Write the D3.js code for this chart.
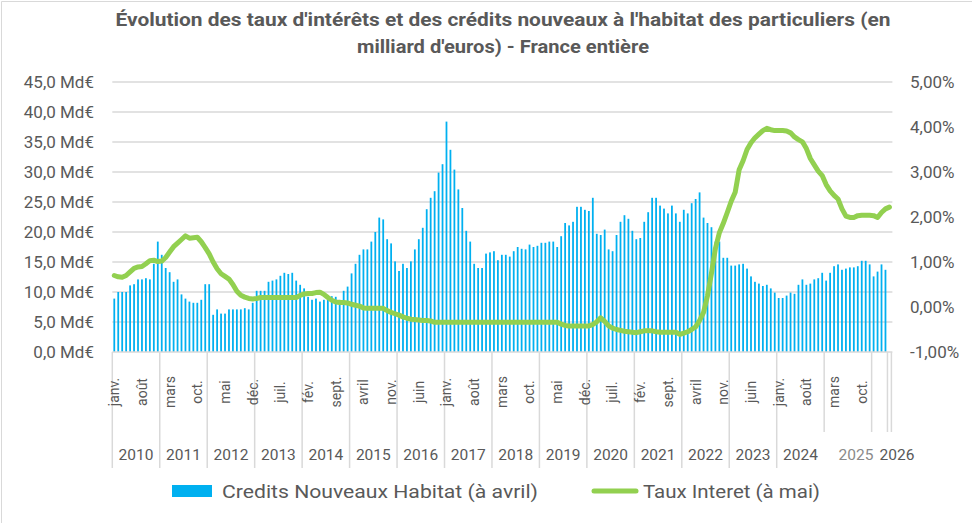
<!DOCTYPE html>
<html>
<head>
<meta charset="utf-8">
<script src="https://cdn.jsdelivr.net/npm/d3@7"></script>
<style>
	body { margin: 0; background: #fff; }
	svg { display: block; font-family: Roboto, 'Noto Sans', sans-serif; }
</style>
</head>
<body>
<svg id="canvas"></svg>
<script>
// month labels shown every 7 months (janv. 2010, août 2010, mars 2011 ...)
const moisLabels = ['janv.', 'août', 'mars', 'oct.', 'mai', 'déc.', 'juil.', 'fév.', 'sept.', 'avril', 'nov.', 'juin'];
const annees = [2010, 2011, 2012, 2013, 2014, 2015, 2016, 2017, 2018, 2019, 2020, 2021, 2022, 2023, 2024, 2025, 2026];
const leftTicks = [0, 5, 10, 15, 20, 25, 30, 35, 40, 45];
const rightTicks = [-1, 0, 1, 2, 3, 4, 5];

// credits nouveaux habitat, Md€ per month, janv. 2010 -> avril 2026
const credits = [
	8.9, 10.0, 10.0, 10.0, 11.1, 11.3, 12.1, 12.1, 12.3, 12.1, 14.7, 18.4,
	16.2, 14.0, 13.3, 11.7, 12.1, 9.6, 8.9, 8.4, 8.2, 8.2, 8.7, 11.3,
	11.3, 6.2, 7.1, 6.4, 6.4, 7.1, 7.1, 7.1, 7.1, 7.3, 7.1, 8.2,
	10.2, 10.2, 10.2, 11.7, 11.9, 12.1, 12.7, 13.2, 13.0, 13.2, 11.9, 11.2,
	10.6, 9.2, 8.7, 8.9, 8.4, 8.7, 9.5, 9.3, 9.2, 8.7, 10.2, 10.9,
	13.1, 14.7, 16.2, 17.1, 17.1, 18.4, 20.0, 22.4, 22.1, 18.8, 18.1, 15.1,
	13.5, 14.7, 14.0, 15.1, 17.1, 18.8, 20.7, 23.8, 25.7, 26.8, 29.9, 31.3,
	38.4, 33.7, 30.4, 27.1, 24.0, 20.2, 18.4, 14.7, 14.0, 14.0, 16.4, 16.6,
	16.8, 15.3, 16.2, 16.2, 15.9, 16.8, 17.5, 17.2, 17.1, 17.9, 17.5, 17.7,
	18.2, 18.2, 18.4, 18.4, 17.5, 19.3, 21.5, 21.1, 21.7, 24.2, 24.2, 23.7,
	23.5, 25.7, 19.7, 19.5, 20.4, 17.1, 16.8, 19.5, 21.7, 22.8, 22.2, 20.2,
	18.8, 19.0, 21.7, 23.3, 25.7, 25.7, 24.4, 23.9, 23.1, 24.4, 23.1, 21.7,
	23.7, 23.1, 24.8, 25.5, 26.6, 22.4, 21.5, 20.8, 18.4, 18.4, 15.7, 15.7,
	14.4, 14.4, 14.6, 14.7, 13.9, 12.6, 11.7, 11.4, 11.0, 11.2, 10.6, 9.9,
	9.0, 9.0, 9.4, 9.9, 9.7, 11.2, 12.1, 11.2, 11.4, 12.1, 12.3, 13.2,
	11.9, 13.2, 14.3, 14.6, 13.7, 13.9, 14.1, 14.1, 14.3, 15.2, 15.2, 14.6,
	12.6, 13.4, 14.6, 13.7
];

// taux d'interet en %, janv. 2010 -> mai 2026
const taux = [
	0.70, 0.67, 0.66, 0.70, 0.78, 0.86, 0.89, 0.90, 0.96, 1.03, 1.04, 1.01,
	1.02, 1.10, 1.22, 1.34, 1.42, 1.50, 1.58, 1.53, 1.54, 1.55, 1.45, 1.32,
	1.18, 1.00, 0.85, 0.74, 0.68, 0.62, 0.50, 0.35, 0.26, 0.22, 0.19, 0.18,
	0.19, 0.21, 0.21, 0.21, 0.21, 0.21, 0.21, 0.21, 0.21, 0.21, 0.21, 0.26,
	0.29, 0.30, 0.30, 0.32, 0.33, 0.28, 0.21, 0.15, 0.11, 0.10, 0.10, 0.09,
	0.06, 0.04, 0.02, -0.02, -0.03, -0.03, -0.03, -0.03, -0.03, -0.08, -0.12, -0.15,
	-0.18, -0.22, -0.25, -0.27, -0.28, -0.29, -0.30, -0.30, -0.31, -0.34, -0.34, -0.34,
	-0.34, -0.34, -0.34, -0.34, -0.34, -0.34, -0.34, -0.34, -0.34, -0.34, -0.34, -0.34,
	-0.34, -0.34, -0.34, -0.34, -0.34, -0.34, -0.34, -0.34, -0.34, -0.34, -0.34, -0.34,
	-0.34, -0.34, -0.34, -0.34, -0.34, -0.38, -0.41, -0.42, -0.42, -0.42, -0.42, -0.42,
	-0.42, -0.39, -0.33, -0.24, -0.32, -0.42, -0.47, -0.50, -0.52, -0.54, -0.55, -0.56,
	-0.57, -0.55, -0.53, -0.53, -0.53, -0.55, -0.56, -0.56, -0.56, -0.56, -0.56, -0.61,
	-0.58, -0.55, -0.50, -0.44, -0.30, -0.12, 0.25, 0.75, 1.30, 1.65, 1.86, 2.10,
	2.35, 2.55, 3.05, 3.25, 3.50, 3.65, 3.76, 3.84, 3.92, 3.97, 3.94, 3.92,
	3.92, 3.92, 3.91, 3.87, 3.78, 3.72, 3.67, 3.52, 3.30, 3.16, 3.02, 2.92,
	2.72, 2.58, 2.48, 2.40, 2.18, 2.02, 1.99, 1.99, 2.03, 2.04, 2.04, 2.04,
	2.03, 1.99, 2.10, 2.18, 2.22
];

//size of the picture
const w = 972;
const h = 523;
//plot area
const xLeft = 112.3;
const xRight = 891.4;
const yTop = 82;
const yBase = 352;

const textColor = '#595959';
const gridColor = '#d9d9d9';

const svg = d3.select('#canvas').attr('width', w).attr('height', h);

//one band per month
const xScale = d3
	.scaleBand()
	.domain(d3.range(taux.length))
	.range([ xLeft, xRight ])
	.paddingInner(0.55)
	.paddingOuter(0.275);
const step = xScale.step();
const xMid = (i) => xScale(i) + xScale.bandwidth() / 2;

const yLeft = d3.scaleLinear().domain([ 0, 45 ]).range([ yBase, yTop ]);
const yRight = d3.scaleLinear().domain([ -1, 5 ]).range([ yBase, yTop ]);

//frame of the chart
svg.append('path').attr('d', 'M1.5,' + h + 'V1.5H' + w).attr('fill', 'none').attr('stroke', gridColor);

//gridlines
svg
	.append('g')
	.selectAll('line')
	.data(leftTicks.slice(1))
	.enter()
	.append('line')
	.attr('x1', xLeft)
	.attr('x2', xRight + 1)
	.attr('y1', (d) => yLeft(d))
	.attr('y2', (d) => yLeft(d))
	.attr('stroke', gridColor)
	.attr('stroke-width', 1.5);

//bars
svg
	.append('g')
	.selectAll('rect')
	.data(credits)
	.enter()
	.append('rect')
	.attr('x', (d, i) => xScale(i))
	.attr('y', (d) => yLeft(d))
	.attr('width', xScale.bandwidth())
	.attr('height', (d) => yBase - yLeft(d))
	.attr('fill', '#00b0f0');

//category axis
svg
	.append('line')
	.attr('x1', xLeft)
	.attr('x2', xRight + 1)
	.attr('y1', yBase)
	.attr('y2', yBase)
	.attr('stroke', gridColor)
	.attr('stroke-width', 1.5);

const sepLong = d3.range(0, 169, 12);
const sepShort = [ 180, 192, 196, 197 ];
svg
	.append('g')
	.selectAll('line')
	.data(sepLong.map((k) => [ k, 468 ]).concat(sepShort.map((k) => [ k, 432 ])))
	.enter()
	.append('line')
	.attr('x1', (d) => xLeft + d[0] * step)
	.attr('x2', (d) => xLeft + d[0] * step)
	.attr('y1', yBase)
	.attr('y2', (d) => d[1])
	.attr('stroke', gridColor)
	.attr('stroke-width', 1.5);

//month labels, rotated
const moisIdx = d3.range(0, 190, 7);
svg
	.append('g')
	.selectAll('text')
	.data(moisIdx)
	.enter()
	.append('text')
	.attr('transform', (k) => 'translate(' + xMid(k) + ',392) rotate(-90)')
	.attr('dy', '0.35em')
	.attr('text-anchor', 'middle')
	.attr('font-size', 14)
	.attr('fill', textColor)
	.text((k, i) => moisLabels[i % 12]);

//year labels
svg
	.append('g')
	.selectAll('text')
	.data(annees)
	.enter()
	.append('text')
	.attr('x', (d, i) => {
		if (d === 2025) return 856;
		if (d === 2026) return 897;
		return xLeft + (i * 12 + 6) * step;
	})
	.attr('y', 455)
	.attr('dy', '0.35em')
	.attr('text-anchor', 'middle')
	.attr('font-size', 15.5)
	.attr('fill', (d) => (d === 2025 ? '#8a8a8a' : textColor))
	.text((d) => d);

//left axis labels
svg
	.append('g')
	.selectAll('text')
	.data(leftTicks)
	.enter()
	.append('text')
	.attr('x', 94)
	.attr('y', (d) => yLeft(d))
	.attr('dy', '0.35em')
	.attr('text-anchor', 'end')
	.attr('font-size', 17)
	.attr('fill', textColor)
	.text((d) => d.toFixed(1).replace('.', ',') + ' Md€');

//right axis labels
svg
	.append('g')
	.selectAll('text')
	.data(rightTicks)
	.enter()
	.append('text')
	.attr('x', 910)
	.attr('y', (d) => yRight(d))
	.attr('dy', '0.35em')
	.attr('text-anchor', 'start')
	.attr('font-size', 17)
	.attr('fill', textColor)
	.text((d) => d.toFixed(2).replace('.', ',') + '%');

//rate line
const line = d3
	.line()
	.x((d, i) => xMid(i))
	.y((d) => yRight(d));
svg
	.append('path')
	.datum(taux)
	.attr('d', line)
	.attr('fill', 'none')
	.attr('stroke', '#92d050')
	.attr('stroke-width', 5)
	.attr('stroke-linejoin', 'round')
	.attr('stroke-linecap', 'round');

//title
const titre = [
	[ "Évolution des taux d'intérêts et des crédits nouveaux à l'habitat des particuliers (en", 26, 775 ],
	[ "milliard d'euros) - France entière", 52.5, 292 ]
];
svg
	.append('g')
	.selectAll('text')
	.data(titre)
	.enter()
	.append('text')
	.attr('x', 503)
	.attr('y', (d) => d[1])
	.attr('text-anchor', 'middle')
	.attr('font-size', 19)
	.attr('font-weight', 'bold')
	.attr('font-family', "'Liberation Sans Narrow', Roboto, sans-serif")
	.attr('textLength', (d) => d[2])
	.attr('lengthAdjust', 'spacingAndGlyphs')
	.attr('fill', textColor)
	.text((d) => d[0]);

//legend
const legend = svg.append('g');
legend.append('rect').attr('x', 172).attr('y', 485).attr('width', 40).attr('height', 12).attr('fill', '#00b0f0');
legend
	.append('text')
	.attr('x', 222)
	.attr('y', 491)
	.attr('dy', '0.35em')
	.attr('font-size', 19)
	.attr('textLength', 316)
	.attr('lengthAdjust', 'spacingAndGlyphs')
	.attr('fill', textColor)
	.text('Credits Nouveaux Habitat (à avril)');
legend
	.append('line')
	.attr('x1', 594)
	.attr('x2', 636)
	.attr('y1', 491)
	.attr('y2', 491)
	.attr('stroke', '#92d050')
	.attr('stroke-width', 5)
	.attr('stroke-linecap', 'round');
legend
	.append('text')
	.attr('x', 643)
	.attr('y', 491)
	.attr('dy', '0.35em')
	.attr('font-size', 19)
	.attr('textLength', 177)
	.attr('lengthAdjust', 'spacingAndGlyphs')
	.attr('fill', textColor)
	.text('Taux Interet (à mai)');
</script>
</body>
</html>
